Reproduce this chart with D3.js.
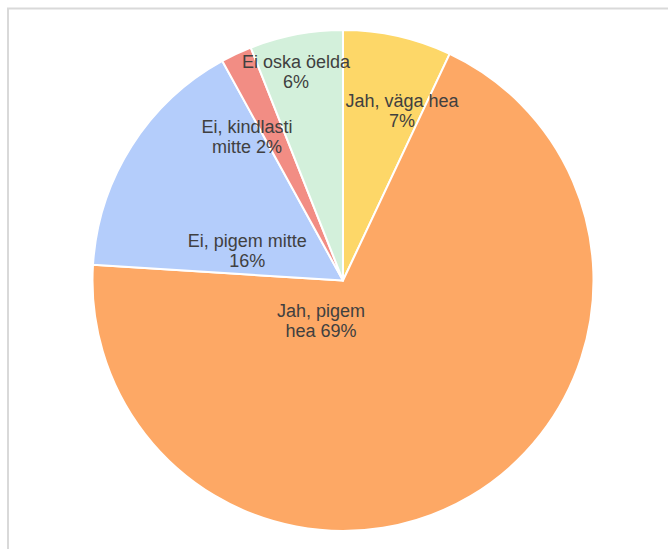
<!DOCTYPE html>
<html>
<head>
<meta charset="utf-8">
<script src="https://cdnjs.cloudflare.com/ajax/libs/d3/7.8.5/d3.min.js"></script>
<style>
  body { margin: 0; background: #fff; }
  svg { display: block; }
</style>
</head>
<body>
<div id="vis"></div>
<script>
// vastuste kategooriad ja osakaalud (%)
const categories = ["Jah, väga hea", "Jah, pigem hea", "Ei, pigem mitte", "Ei, kindlasti mitte", "Ei oska öelda"];
const values = [7, 69, 16, 2, 6];
// sildid kahes reas, nagu originaalis
const labelLines = [
    ["Jah, väga hea", "7%"],
    ["Jah, pigem", "hea 69%"],
    ["Ei, pigem mitte", "16%"],
    ["Ei, kindlasti", "mitte 2%"],
    ["Ei oska öelda", "6%"]
];
const colors = ["#fdd768", "#fda865", "#b4cdfb", "#f28d84", "#d3f0db"];
// sildi asukoht: nurk (kraadides) ja kaugus keskpunktist raadiuse osana
const labelAngle = [19.2, 208.5, 287.2, 326.3, 347.3];
const labelRadius = [0.717, 0.184, 0.40, 0.69, 0.853];

const width = 668, height = 549;
const cx = 343, cy = 280.5, r = 250.5;

const svg = d3.select("#vis").append("svg")
    .attr("width", width)
    .attr("height", height);

// raam ümber graafiku
svg.append("rect")
    .attr("x", 8).attr("y", 8.5)
    .attr("width", width + 10).attr("height", height + 10)
    .attr("fill", "none")
    .attr("stroke", "#d9d9d9")
    .attr("stroke-width", 2);

const g = svg.append("g")
    .attr("transform", "translate(" + cx + "," + cy + ")");

const data = categories.map((c, i) => ({name: c, value: values[i], i: i}));

const pie = d3.pie()
    .sort(null)
    .value(d => d.value);

const arc = d3.arc()
    .innerRadius(0)
    .outerRadius(r);

const arcs = pie(data);

g.selectAll(".slice")
    .data(arcs)
  .enter().append("path")
    .attr("class", "slice")
    .attr("d", arc)
    .attr("fill", d => colors[d.data.i])
    .attr("stroke", "#fff")
    .attr("stroke-width", 2)
    .attr("stroke-linejoin", "round");

// sildid
const labels = g.selectAll(".label")
    .data(arcs)
  .enter().append("text")
    .attr("class", "label")
    .attr("text-anchor", "middle")
    .attr("font-family", "Arial, 'Liberation Sans', sans-serif")
    .attr("font-size", 18)
    .attr("fill", "#404040")
    .attr("transform", d => {
        const a = labelAngle[d.data.i] * Math.PI / 180;
        const rr = labelRadius[d.data.i] * r;
        return "translate(" + (rr * Math.sin(a)) + "," + (-rr * Math.cos(a)) + ")";
    });

labels.selectAll("tspan")
    .data(d => labelLines[d.data.i])
  .enter().append("tspan")
    .attr("x", 0)
    .attr("y", (d, j) => (j === 0 ? -4 : 16))
    .text(d => d);
</script>
</body>
</html>
